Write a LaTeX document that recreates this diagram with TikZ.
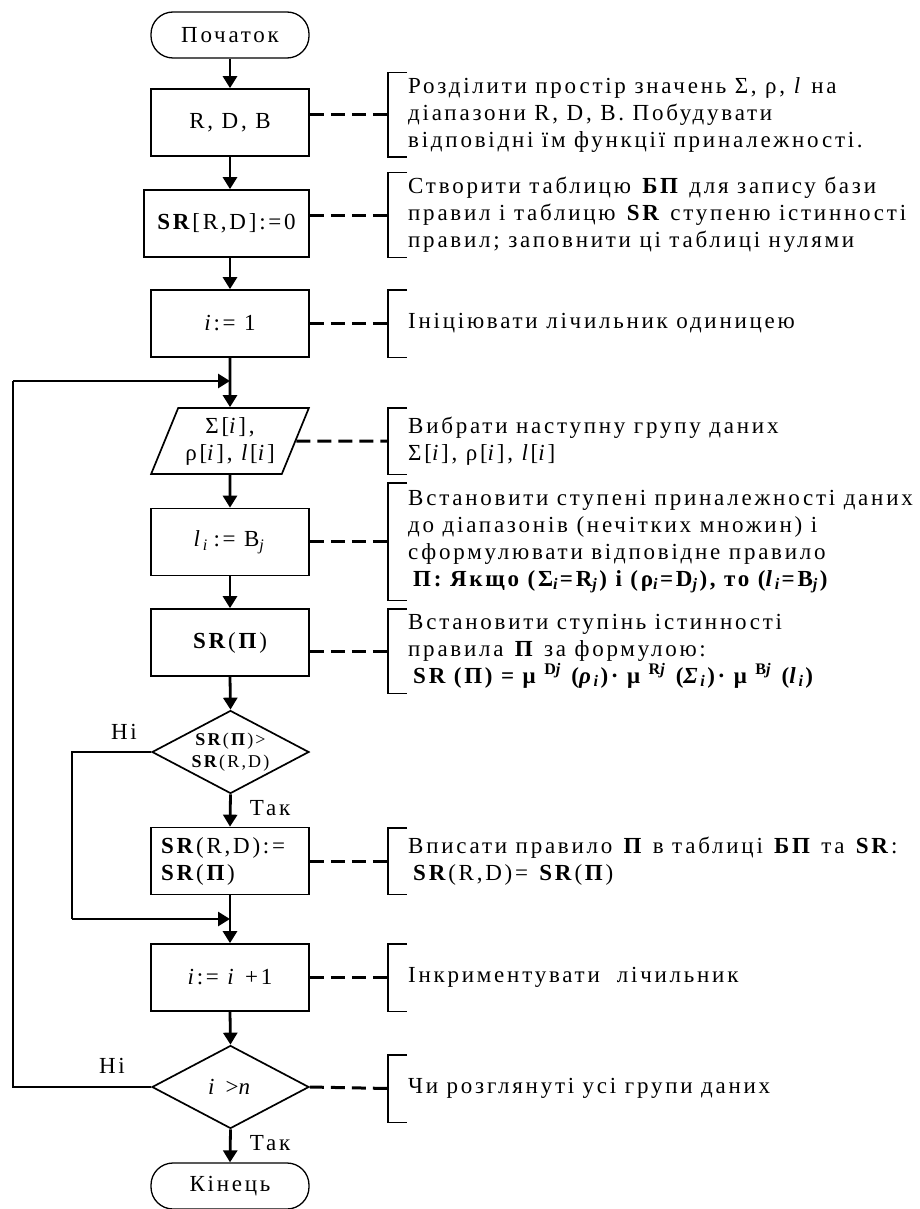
\documentclass[tikz,border=0pt]{standalone}
\usepackage{fontspec}
\setmainfont{Liberation Serif}[LetterSpace=12]
\usetikzlibrary{shapes.geometric,arrows.meta}
\begin{document}
\begin{tikzpicture}[x=1pt,y=-1pt,
  txt/.style={font=\fontsize{23}{27}\selectfont},
  box/.style={draw, line width=1.7pt, minimum width=158pt, minimum height=67pt, inner sep=0pt, align=center, txt},
  term/.style={draw, line width=1.3pt, rounded corners=22pt, minimum width=158pt, minimum height=46pt, inner sep=0pt, txt},
  iobox/.style={draw, trapezium, trapezium left angle=64, trapezium right angle=116, trapezium stretches=true, line width=1.7pt, minimum width=158pt, minimum height=66pt, inner sep=0pt, align=center, txt},
  decision/.style={draw, diamond, line width=1.7pt, minimum width=157pt, minimum height=83pt, inner sep=0pt},
  comment/.style={anchor=west, align=left, inner xsep=0pt, inner ysep=0pt, txt},
  flow/.style={line width=2.8pt, -{Triangle[length=12pt,width=14pt]}},
  thinline/.style={line width=1.5pt},
  brk/.style={line width=1.4pt},
  dashline/.style={line width=3pt, dash pattern=on 14pt off 7pt},
  lbl/.style={txt, inner sep=0pt}
]
\useasboundingbox (0,0) rectangle (920,1209);

% main column
\node[term] (start) at (230,35) {Початок};
\node[box] (b1) at (230,122.5) {R, D, B};
\node[box, minimum width=165pt] (b2) at (226.5,223.5) {\textbf{SR}[R,D]:=0};
\node[box] (b3) at (230,323.5) {\textit{i}:= 1};
\node[iobox] (io) at (230,441) {Σ[\textit{i}],\\ρ[\textit{i}], \textit{l}[\textit{i}]};
\node[box] (b5) at (230,542) {\textit{l}\textsubscript{\textit{i}}\,:= B\textsubscript{\textit{j}}};
\node[box] (b6) at (230,642.5) {\textbf{SR}(\textbf{П})};
\node[decision, label={[align=center, font=\fontsize{18}{22}\selectfont]center:{\textbf{SR}(\textbf{П})>\\\textbf{SR}(R,D)}}] (d1) at (230.5,752) {};
\node[box, align=left, text width=138pt, inner xsep=10pt] (b7) at (230,861) {\textbf{SR}(R,D):=\\\textbf{SR}(\textbf{П})};
\node[box] (b8) at (230,977.5) {\textit{i}:= \textit{i} +1};
\node[decision, label={[txt]center:{\textit{i} >\textit{n}}}] (d2) at (230.5,1087) {};
\node[term] (end) at (230,1186) {Кінець};

% labels
\node[lbl] (no1) at (124,732) {Ні};
\node[lbl] (yes1) at (270,808) {Так};
\node[lbl] (no2) at (112,1066) {Ні};
\node[lbl] (yes2) at (270,1143) {Так};

% flow arrows
\draw[flow] (start.south) -- (b1.north);
\draw[flow] (b1.south) -- (b1.south |- b2.north);
\draw[flow] (b1.south |- b2.south) -- (b3.north);
\draw[flow] (b3.south) -- (io.north);
\draw[flow] (io.south) -- (b5.north);
\draw[flow] (b5.south) -- (b6.north);
\draw[flow] (b6.south) -- (d1.north);
\draw[flow] (d1.south) -- (b7.north);
\draw[flow] (b7.south) -- (b8.north);
\draw[flow] (b8.south) -- (d2.north);
\draw[flow] (d2.south) -- (end.north);

% loops
\coordinate (L1) at (13,381);
\coordinate (J1) at (230,381);
\coordinate (L2) at (72,919);
\coordinate (J2) at (230,919);
\draw[thinline] (d2.west) -| (L1);
\draw[flow] (L1) -- (J1);
\draw[thinline] (d1.west) -| (L2);
\draw[flow] (L2) -- (J2);

% comments
\node[comment, minimum height=84pt] (c1) at (408,115) {Розділити простір значень Σ, ρ, \textit{l} на\\діапазони R, D, B. Побудувати\\відповідні їм функції приналежності.};
\node[comment, minimum height=84pt] (c2) at (408,215) {Створити таблицю \textbf{БП} для запису бази\\правил і таблицю \textbf{SR} ступеню істинності\\правил; заповнити ці таблиці нулями};
\node[comment, minimum height=67pt] (c3) at (408,323.5) {Ініціювати лічильник одиницею};
\node[comment, minimum height=66pt] (c4) at (408,441) {Вибрати наступну групу даних\\Σ[\textit{i}], ρ[\textit{i}], \textit{l}[\textit{i}]};
\node[comment, minimum height=117pt] (c5) at (408,541.5) {Встановити ступені приналежності даних\\до діапазонів (нечітких множин) і\\сформулювати відповідне правило\\\hspace*{5pt}\textbf{П: Якщо (Σ\textsubscript{\textit{i}}=R\textsubscript{\textit{j}}) і (ρ\textsubscript{\textit{i}}=D\textsubscript{\textit{j}}), то (\textit{l}\textsubscript{\textit{i}}=B\textsubscript{\textit{j}})}};
\node[comment, minimum height=84pt] (c6) at (408,651) {Встановити ступінь істинності\\правила \textbf{П} за формулою:\\\hspace*{5pt}\textbf{SR (П) = μ \textsuperscript{D\textit{j}} (\textit{ρ}\textsubscript{\textit{i}})· μ \textsuperscript{R\textit{j}} (\textit{Σ}\textsubscript{\textit{i}})· μ \textsuperscript{B\textit{j}} (\textit{l}\textsubscript{\textit{i}})}};
\node[comment, minimum height=66pt] (c7) at (408,861) {Вписати правило \textbf{П} в таблиці \textbf{БП} та \textbf{SR}:\\\hspace*{5pt}\textbf{SR}(R,D)= \textbf{SR}(\textbf{П})};
\node[comment, minimum height=67pt] (c8) at (408,977.5) {Інкриментувати\ \ лічильник};
\node[comment, minimum height=67pt] (c9) at (408,1088.5) {Чи розглянуті усі групи даних};

% brackets and dashed links
\foreach \c/\b in {c1/b1,c2/b2,c3/b3,c5/b5,c6/b6,c7/b7,c8/b8} {
  \draw[brk] ([xshift=-1pt]\c.north west) -- ([xshift=-20pt]\c.north west) -- ([xshift=-20pt]\c.south west) -- ([xshift=-1pt]\c.south west);
  \draw[dashline] (\b.east |- \c.west) -- ([xshift=-20pt]\c.west);
}
\draw[brk] ([xshift=-1pt]c4.north west) -- ([xshift=-20pt]c4.north west) -- ([xshift=-20pt]c4.south west) -- ([xshift=-1pt]c4.south west);
\draw[dashline] (io.east) -- ([xshift=-20pt]c4.west);
\draw[brk] ([xshift=-1pt]c9.north west) -- ([xshift=-20pt]c9.north west) -- ([xshift=-20pt]c9.south west) -- ([xshift=-1pt]c9.south west);
\draw[dashline] (d2.east) -- ([xshift=-20pt]c9.west);
\end{tikzpicture}
\end{document}
